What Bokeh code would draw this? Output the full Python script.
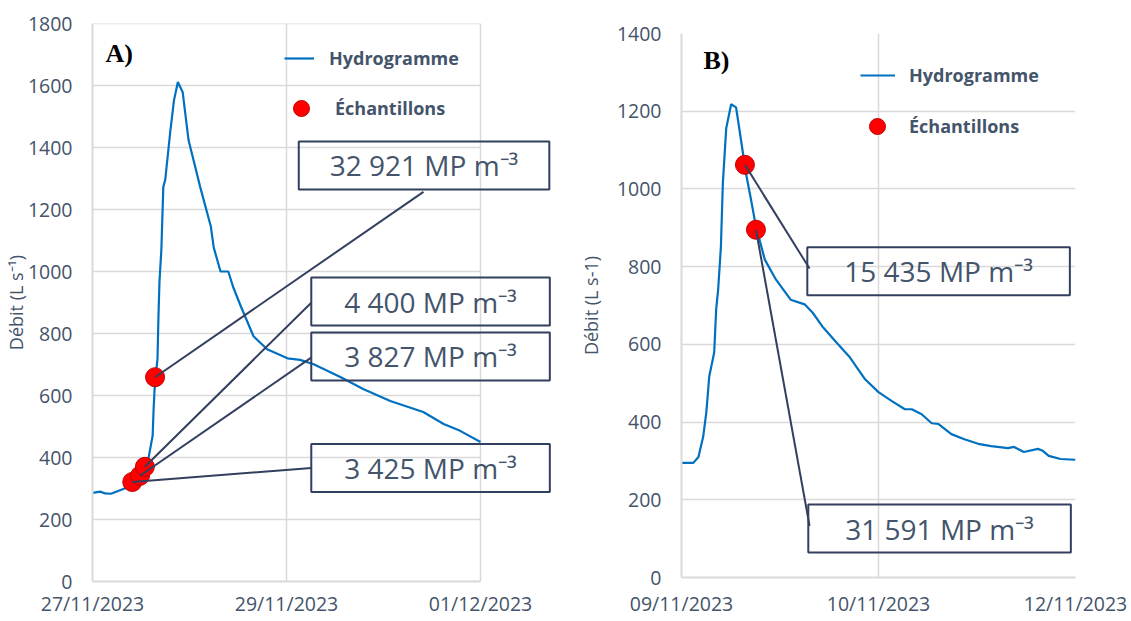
from bokeh.plotting import figure
from bokeh.models import Range1d, FixedTicker, Label, Legend, LegendItem
from bokeh.embed import file_html
from bokeh.resources import INLINE

# ---------------- data : panel A ----------------
a_tick_pos = [0, 2, 4]
a_tick_lab = ["27/11/2023", "29/11/2023", "01/12/2023"]
a_y_ticks = [0, 200, 400, 600, 800, 1000, 1200, 1400, 1600, 1800]
a_hyd_x = [0.00, 0.08, 0.13, 0.19, 0.29, 0.41, 0.49, 0.53, 0.57, 0.62, 0.63, 0.64, 0.65, 0.67,
           0.68, 0.69, 0.71, 0.73, 0.75, 0.80, 0.84, 0.88, 0.93, 0.99, 1.11, 1.22, 1.25, 1.32,
           1.40, 1.45, 1.53, 1.66, 1.80, 2.01, 2.14, 2.28, 2.56, 2.79, 3.07, 3.41, 3.62, 3.79, 4.00]
a_hyd_y = [286, 290, 284, 283, 295, 309, 335, 373, 386, 470, 556, 620, 662, 717,
           855, 964, 1071, 1273, 1296, 1446, 1552, 1611, 1578, 1424, 1273, 1145, 1077, 1000,
           1000, 950, 887, 791, 749, 720, 715, 701, 659, 621, 582, 547, 508, 486, 450]
a_smp_x = [0.41, 0.49, 0.54, 0.645]
a_smp_y = [321, 341, 370, 659]
a_conc = ["3 425", "3 827", "4 400", "32 921"]
a_box_x = [3.485, 3.485, 3.485, 3.418]
a_box_y = [366, 726, 903, 1342]
a_lead_x = [2.258, 2.258, 2.258, 3.412]
a_lead_y = [366, 723, 900, 1257]

# ---------------- data : panel B ----------------
b_tick_pos = [0, 1, 2]
b_tick_lab = ["09/11/2023", "10/11/2023", "12/11/2023"]
b_y_ticks = [0, 200, 400, 600, 800, 1000, 1200, 1400]
b_hyd_x = [0.00, 0.06, 0.086, 0.11, 0.126, 0.141, 0.166, 0.176, 0.186, 0.20, 0.21, 0.227, 0.252,
           0.277, 0.302, 0.327, 0.353, 0.378, 0.423, 0.479, 0.554, 0.625, 0.665, 0.715, 0.781,
           0.851, 0.932, 1.00, 1.068, 1.134, 1.169, 1.219, 1.270, 1.305, 1.370, 1.436, 1.506,
           1.572, 1.657, 1.688, 1.738, 1.809, 1.834, 1.864, 1.924, 2.00]
b_hyd_y = [295, 295, 310, 362, 425, 518, 579, 690, 741, 851, 1015, 1156, 1218,
           1210, 1126, 1041, 972, 903, 818, 767, 715, 703, 682, 646, 608,
           569, 510, 477, 454, 433, 433, 420, 397, 395, 369, 356, 344,
           338, 333, 336, 323, 331, 326, 313, 305, 303]
b_smp_x = [0.322, 0.378]
b_smp_y = [1062, 895]
b_conc = ["15 435", "31 591"]
b_box_x = [1.305, 1.31]
b_box_y = [788, 126]
b_lead_x = [0.65, 0.65]
b_lead_y = [795, 133]

# ---------------- styles ----------------
FONT = "Open Sans"
NAVY = "#44546A"
BLUE = "#0070C0"
LEAD = "#333F5F"
GRID = "#D9D9D9"

# page: the two figures side by side, each with its own independent layout
TEMPLATE = """
{% from macros import embed %}
{% block contents %}
<div style="display:flex;flex-direction:row;align-items:flex-start">
{% for doc in docs %}{% for root in doc.roots %}{{ embed(root) }}{% endfor %}{% endfor %}
</div>
{% endblock %}
"""


def panel(width, height, borders, x_end, y_ticks, tick_pos, tick_lab, ylabel, ylab_standoff,
          xlab_standoff, manual_grid):
    left, right, top, bottom = borders
    p = figure(width=width, height=height,
               x_range=Range1d(0, x_end), y_range=Range1d(0, y_ticks[-1]),
               output_backend="svg", toolbar_location=None,
               min_border_left=left, min_border_right=right,
               min_border_top=top, min_border_bottom=bottom)
    p.outline_line_color = None
    p.xaxis.ticker = FixedTicker(ticks=tick_pos)
    p.xaxis.major_label_overrides = {t: l for t, l in zip(tick_pos, tick_lab)}
    p.yaxis.ticker = FixedTicker(ticks=y_ticks)
    for ax in (p.xaxis[0], p.yaxis[0]):
        ax.axis_line_color = GRID
        ax.axis_line_width = 2
        ax.major_tick_line_color = None
        ax.minor_tick_line_color = None
        ax.major_tick_out = 0
        ax.major_tick_in = 0
        ax.major_label_text_font = FONT
        ax.major_label_text_font_size = "19.5px"
        ax.major_label_text_color = NAVY
    p.xaxis.major_label_standoff = xlab_standoff
    p.yaxis.major_label_standoff = 20
    p.yaxis.axis_label = ylabel
    p.yaxis.axis_label_text_font = FONT
    p.yaxis.axis_label_text_font_size = "18px"
    p.yaxis.axis_label_text_font_style = "normal"
    p.yaxis.axis_label_text_color = NAVY
    p.yaxis.axis_label_standoff = ylab_standoff
    if manual_grid:
        # grid restricted to the data area (labels may extend to the right of it)
        p.grid.visible = False
        p.xaxis.bounds = (tick_pos[0], tick_pos[-1])
        p.segment(x0=[tick_pos[0]] * len(y_ticks), x1=[tick_pos[-1]] * len(y_ticks),
                  y0=y_ticks, y1=y_ticks, line_color=GRID, line_width=1.5)
        p.segment(x0=tick_pos[1:], x1=tick_pos[1:], y0=[y_ticks[0]] * (len(tick_pos) - 1),
                  y1=[y_ticks[-1]] * (len(tick_pos) - 1), line_color=GRID, line_width=1.5)
    else:
        p.grid.grid_line_color = GRID
        p.grid.grid_line_width = 1.5
    return p


def add_content(p, hx, hy, sx, sy, conc, bx, by, lx, ly, pads, letter, letter_xy, leg):
    line_r = p.line(hx, hy, line_color=BLUE, line_width=2.2)
    dots_r = p.scatter(sx, sy, size=19, fill_color="#FF0000", line_color="#C00000", line_width=1)
    p.segment(x0=sx, y0=sy, x1=lx, y1=ly, line_color=LEAD, line_width=2)
    for c, x, y, pad in zip(conc, bx, by, pads):
        p.add_layout(Label(x=x, y=y, text=f"{c} MP m\u207b\u00b3", anchor="center",
                           text_align="center", text_baseline="middle",
                           text_font=FONT, text_font_size="28px", text_color=NAVY,
                           border_line_color=LEAD, border_line_width=2,
                           background_fill_alpha=0,
                           padding=dict(left=pad, right=pad, top=5, bottom=5)))
    p.add_layout(Label(x=letter_xy[0], y=letter_xy[1], x_units="screen", y_units="screen",
                       text=letter, text_font="Liberation Serif", text_font_style="bold",
                       text_font_size="26px", text_color="black",
                       text_align="left", text_baseline="middle"))
    (l1x, l1y, gw1, st1), (l2x, l2y, st2) = leg
    common = dict(border_line_color=None, background_fill_alpha=0, padding=0, margin=0,
                  label_text_font=FONT, label_text_font_style="bold",
                  label_text_font_size="18px", label_text_color=NAVY)
    p.add_layout(Legend(items=[LegendItem(label="Hydrogramme", renderers=[line_r])],
                        location=(l1x, l1y), glyph_width=gw1, glyph_height=24,
                        label_height=24, label_standoff=st1, **common))
    p.add_layout(Legend(items=[LegendItem(label="Échantillons", renderers=[dots_r])],
                        location=(l2x, l2y), glyph_width=40, glyph_height=40,
                        label_height=24, label_standoff=st2, **common))


# panel A: data area 0..4 spans 388 px, frame continues 76 px further right for the labels
pa = panel(575, 619, (92, 19, 23, 36), 4 * 464 / 388, a_y_ticks, a_tick_pos, a_tick_lab,
           "Débit (L s\u207b\u00b9)", -3, 8, True)
add_content(pa, a_hyd_x, a_hyd_y, a_smp_x, a_smp_y, a_conc, a_box_x, a_box_y,
            a_lead_x, a_lead_y, [33, 33, 33, 31], "A)", (13, 528),
            ((192, 511, 30, 15), (189, 453, 14)))

pb = panel(554, 619, (103, 54, 33, 40), 2, b_y_ticks, b_tick_pos, b_tick_lab,
           "Débit (L s-1)", 11, 12, False)
add_content(pb, b_hyd_x, b_hyd_y, b_smp_x, b_smp_y, b_conc, b_box_x, b_box_y,
            b_lead_x, b_lead_y, [37, 37], "B)", (22, 517),
            ((179, 490, 35, 14), (176, 431, 12)))

open("out.html", "w").write(file_html([pa, pb], INLINE, template=TEMPLATE))
